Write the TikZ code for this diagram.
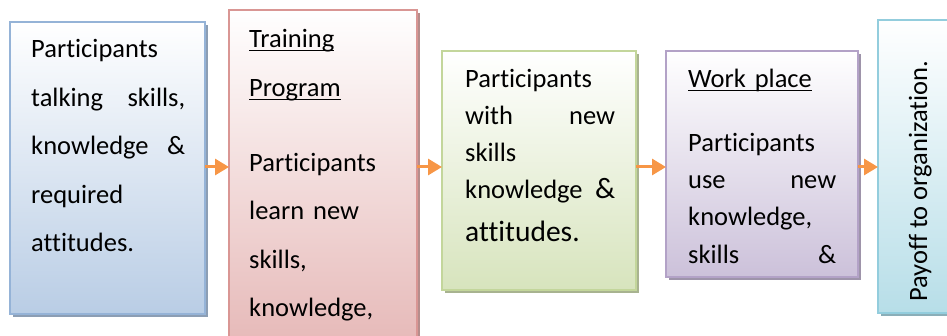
\documentclass[tikz,border=0pt]{standalone}
\usepackage{fontspec}
\setmainfont{Carlito}[Ligatures=NoCommon]
\usetikzlibrary{shadows,arrows.meta,positioning}

\definecolor{blueline}{HTML}{95B3D7}
\definecolor{bluefill}{HTML}{B9CDE5}
\definecolor{redline}{HTML}{D99694}
\definecolor{redfill}{HTML}{E6B9B8}
\definecolor{greenline}{HTML}{C3D69B}
\definecolor{greenfill}{HTML}{D7E4BD}
\definecolor{purpleline}{HTML}{B3A2C7}
\definecolor{purplefill}{HTML}{CCC1DA}
\definecolor{aqualine}{HTML}{93CDDD}
\definecolor{aquafill}{HTML}{B7DEE8}
\definecolor{flowcol}{HTML}{F79646}

\newcommand{\bigword}[1]{{\fontsize{29.5}{37}\selectfont #1}}
\newsavebox{\ulbox}
\newcommand{\ulword}[1]{\leavevmode\sbox{\ulbox}{#1}\rlap{\rule[-3.5pt]{\wd\ulbox}{1.3pt}}\usebox{\ulbox}}

\begin{document}
\begin{tikzpicture}[
        x=1pt, y=1pt,
        card/.style 2 args={draw=#1, line width=2.5pt, outer sep=0pt, inner sep=0pt,
            top color=white, bottom color=#2,
            drop shadow={shadow xshift=3pt, shadow yshift=-3pt, fill=#1!60!gray, opacity=1}}, % Стиль блоков
        cardtext/.style={anchor=base west, inner sep=0pt, align=left,
            font=\fontsize{26.5}{#1}\selectfont}, % Текст внутри блока
        flow/.style={draw=flowcol, line width=3pt, -{Triangle[length=14pt, width=16pt]}},
    ]
    \useasboundingbox (0,0) rectangle (947,335);

    % Блоки
    \node[card={blueline}{bluefill}, minimum width=195pt, minimum height=292pt] (b1) at (107.5,167) {};
    \node[card={redline}{redfill}, minimum width=188pt, minimum height=335pt] (b2) at (323,157.5) {};
    \node[card={greenline}{greenfill}, minimum width=194pt, minimum height=239pt] (b3) at (539,164.5) {};
    \node[card={purpleline}{purplefill}, minimum width=192pt, minimum height=226pt] (b4) at (762,171) {};
    \node[card={aqualine}{aquafill}, minimum width=120pt, minimum height=293pt] (b5) at (938,168.5) {};

    % Тексты
    \node[cardtext=48.5, text width=154pt] (t1) at ([shift={(21,-36)}]b1.north west)
        {Participants\\ talking\hfill skills,\\ knowledge\hfill \&\\ required\\ attitudes.};
    \node[cardtext=48.5, text width=148pt] (t2) at ([shift={(20,-38)}]b2.north west)
        {\ulword{Training}\\ \ulword{Program}\\[26.5pt] Participants\\ learn new\\ skills,\\ knowledge,};
    \node[cardtext=37, text width=150pt] (t3) at ([shift={(23,-37)}]b3.north west)
        {Participants\\ with\hfill new\\ skills\\ knowledge\hfill \bigword{\&}\\[6pt] \bigword{attitudes.}};
    \node[cardtext=37, text width=148pt] (t4) at ([shift={(22,-37)}]b4.north west)
        {\ulword{Work place}\\[27pt] Participants\\ use\hfill new\\ knowledge,\\ skills\hfill \&};
    \node[cardtext=37, rotate=90] (t5) at ([shift={(49,11)}]b5.south west) {Payoff to organization.};

    % Стрелки
    \coordinate (mid) at (0,168);
    \draw[flow] (b1.east |- mid) -- (b2.west |- mid);
    \draw[flow] (b2.east |- mid) -- (b3.west |- mid);
    \draw[flow] (b3.east |- mid) -- (b4.west |- mid);
    \draw[flow] (b4.east |- mid) -- (b5.west |- mid);
\end{tikzpicture}
\end{document}
